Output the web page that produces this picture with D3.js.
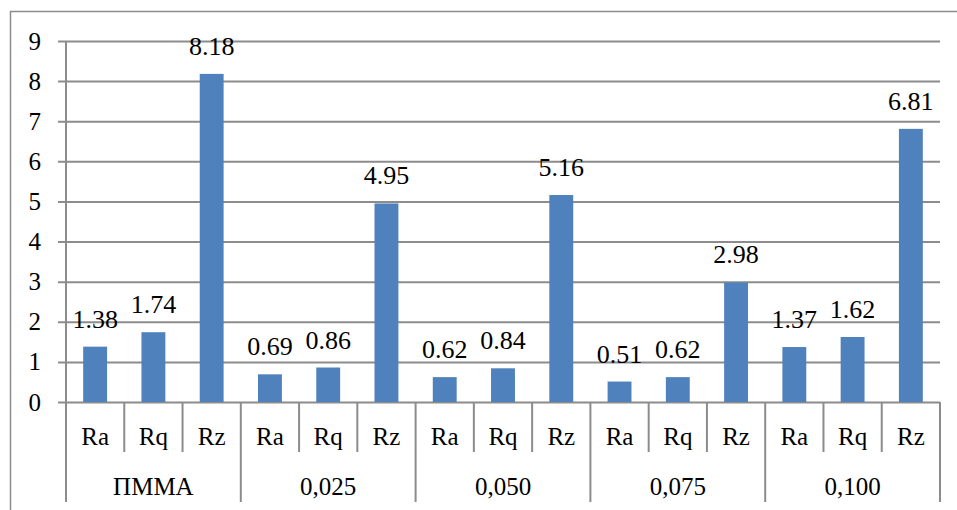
<!DOCTYPE html>
<html>
<head>
<meta charset="utf-8">
<script src="https://cdn.jsdelivr.net/npm/d3@7"></script>
<style>
  html, body { margin: 0; padding: 0; background: #fff; }
  svg { display: block; }
</style>
</head>
<body>
<svg id="chart" width="957" height="510"></svg>
<script>
// Roughness parameters for each sample group
const groups = ["ПММА", "0,025", "0,050", "0,075", "0,100"];
const params = ["Ra", "Rq", "Rz"];
const values = [
  [1.38, 1.74, 8.18],
  [0.69, 0.86, 4.95],
  [0.62, 0.84, 5.16],
  [0.51, 0.62, 2.98],
  [1.37, 1.62, 6.81]
];
const yTicks = [0, 1, 2, 3, 4, 5, 6, 7, 8, 9];

const FONT = "'Liberation Serif', 'DejaVu Serif', serif";

const rows = [];
groups.forEach((g, gi) => params.forEach((p, pi) => rows.push({ group: g, param: p, value: values[gi][pi], key: g + "|" + p })));

const svg = d3.select("#chart").attr("font-family", FONT);
const plot = { left: 66, right: 940, top: 41, bottom: 402 };
const gridColor = "#8c8c8c";

// outer frame (top and left edges visible)
svg.append("path")
  .attr("d", "M10.5,510 L10.5,11.5 L957,11.5")
  .attr("fill", "none").attr("stroke", gridColor).attr("stroke-width", 1.5);

const x = d3.scaleBand().domain(rows.map(d => d.key)).range([plot.left, plot.right]).paddingInner(0).paddingOuter(0);
const y = d3.scaleLinear().domain([0, 9]).range([plot.bottom, plot.top]);

// y grid + axis
const yAxis = d3.axisLeft(y).tickValues(yTicks).tickSize(-(plot.right - plot.left)).tickPadding(25).tickFormat(d3.format("d"));
const ya = svg.append("g").attr("transform", `translate(${plot.left},0)`).call(yAxis)
  .attr("font-family", FONT).attr("font-size", 25);
ya.select(".domain").remove();
ya.selectAll(".tick line").attr("stroke", gridColor).attr("stroke-width", 2).attr("x1", -8);
ya.selectAll(".tick text").attr("fill", "#000");

// vertical axis line
svg.append("line").attr("x1", plot.left).attr("x2", plot.left).attr("y1", plot.top).attr("y2", plot.bottom)
  .attr("stroke", gridColor).attr("stroke-width", 2);

// bars
const bw = x.bandwidth() * 0.41;
svg.append("g").selectAll("rect").data(rows).join("rect")
  .attr("x", d => x(d.key) + (x.bandwidth() - bw) / 2)
  .attr("width", bw)
  .attr("y", d => y(d.value))
  .attr("height", d => y(0) - y(d.value))
  .attr("fill", "#4f81bd");

// value labels
svg.append("g").selectAll("text").data(rows).join("text")
  .attr("x", d => x(d.key) + x.bandwidth() / 2)
  .attr("y", d => y(d.value) - 19)
  .attr("text-anchor", "middle")
  .attr("font-family", FONT)
  .attr("font-size", 26)
  .text(d => d.value.toFixed(2));

// multi-level category axis
const axisG = svg.append("g").attr("font-family", FONT).attr("font-size", 25);
rows.forEach((d, i) => {
  const xx = x(d.key);
  const isGroupStart = i % params.length === 0;
  axisG.append("line").attr("x1", xx).attr("x2", xx).attr("y1", plot.bottom)
    .attr("y2", isGroupStart ? 502 : 452)
    .attr("stroke", gridColor).attr("stroke-width", 2);
});
axisG.append("line").attr("x1", plot.right).attr("x2", plot.right).attr("y1", plot.bottom).attr("y2", 502)
  .attr("stroke", gridColor).attr("stroke-width", 2);

axisG.selectAll("text.param").data(rows).join("text").attr("class", "param")
  .attr("x", d => x(d.key) + x.bandwidth() / 2)
  .attr("y", 445)
  .attr("text-anchor", "middle")
  .text(d => d.param);

axisG.selectAll("text.grp").data(groups).join("text").attr("class", "grp")
  .attr("x", g => x(g + "|" + params[0]) + x.bandwidth() * params.length / 2)
  .attr("y", 495)
  .attr("text-anchor", "middle")
  .text(g => g);
</script>
</body>
</html>
